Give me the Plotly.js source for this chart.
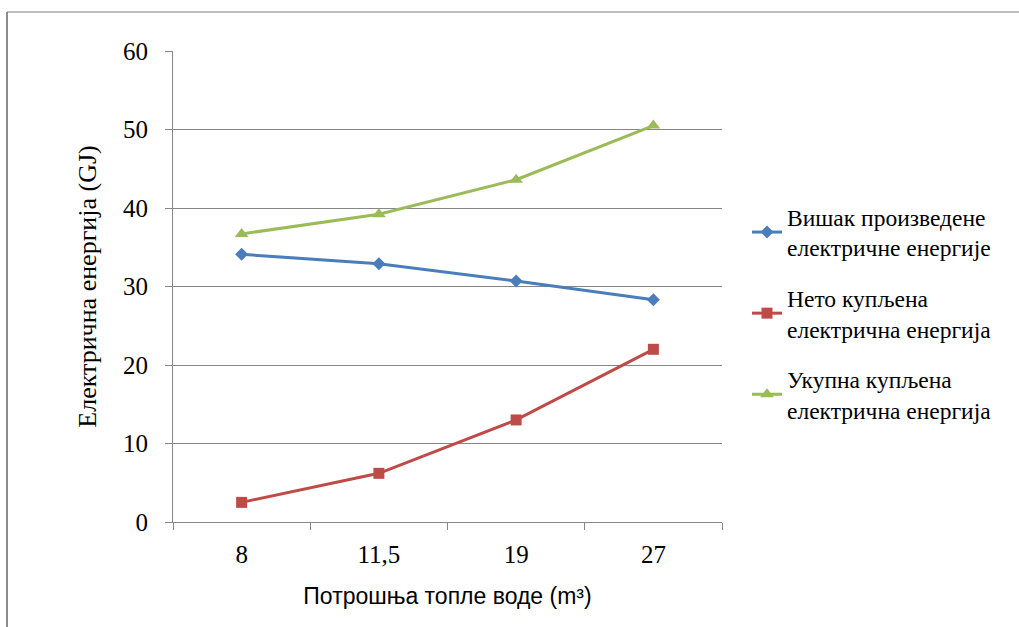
<!DOCTYPE html>
<html>
<head>
<meta charset="utf-8">
<script src="https://cdn.plot.ly/plotly-3.0.1.min.js"></script>
<style>
  html, body { margin: 0; padding: 0; background: #ffffff; }
  #chart { width: 1019px; height: 627px; }
</style>
</head>
<body>
<div id="chart"></div>
<script>
// ---- data ----
const categories = ['8', '11,5', '19', '27'];
const seriesNames = [
  'Вишак произведене<br>електричне енергије',
  'Нето купљена<br>електрична енергија',
  'Укупна купљена<br>електрична енергија'
];
const surplusProduced = [34.1, 32.9, 30.7, 28.3];
const netPurchased    = [2.5, 6.2, 13.0, 22.0];
const totalPurchased  = [36.7, 39.2, 43.6, 50.5];
const yTitle = 'Електрична енергија (GJ)';
const xTitle = 'Потрошња топле воде (m³)';

const colors = ['#4a7ebb', '#be4b48', '#9bbb59'];
const symbols = ['diamond', 'square', 'triangle-up'];
const sizes = [10, 11, 12];
const values = [surplusProduced, netPurchased, totalPurchased];

const traces = values.map((v, i) => ({
  type: 'scatter',
  mode: 'lines+markers',
  x: categories,
  y: v,
  name: seriesNames[i],
  legendgroup: 'g' + i,
  line: { color: colors[i], width: 3 },
  marker: { color: colors[i], symbol: symbols[i], size: sizes[i] }
}));

const L = 173, R = 722, T = 51, B = 522, W = 1019, H = 627;
const pw = R - L, ph = B - T;
const px = x => (x - L) / pw;
const py = y => (B - y) / ph;

const serifFont = 'Liberation Serif, serif';

const layout = {
  width: W, height: H,
  margin: { l: L, r: W - R, t: T, b: H - B, pad: 0, autoexpand: false },
  paper_bgcolor: '#ffffff',
  plot_bgcolor: '#ffffff',
  font: { family: serifFont, color: '#000000', size: 25 },
  showlegend: true,
  legend: {
    x: px(747), y: py(195), xanchor: 'left', yanchor: 'top',
    font: { family: serifFont, size: 23.5, color: '#000000' },
    traceorder: 'grouped',
    tracegroupgap: 17,
    bgcolor: 'rgba(0,0,0,0)',
    itemwidth: 30
  },
  xaxis: {
    type: 'category',
    range: [-0.5, 3.5],
    showgrid: false,
    zeroline: false,
    showline: true,
    linecolor: '#868686',
    linewidth: 1,
    ticks: 'outside',
    tickson: 'boundaries',
    ticklen: 7,
    tickcolor: '#868686',
    ticklabelstandoff: 10,
    tickfont: { family: serifFont, size: 25 },
    title: {
      text: xTitle,
      font: { family: 'Liberation Sans, sans-serif', size: 23 },
      standoff: 20
    },
    fixedrange: true
  },
  yaxis: {
    range: [0, 60],
    dtick: 10,
    showgrid: true,
    gridcolor: '#868686',
    gridwidth: 1,
    zeroline: false,
    showline: true,
    linecolor: '#868686',
    linewidth: 1,
    ticks: 'outside',
    ticklen: 7,
    tickcolor: '#868686',
    ticklabelstandoff: 12,
    tickfont: { family: serifFont, size: 25 },
    title: {
      text: yTitle,
      font: { family: serifFont, size: 26 },
      standoff: 18
    },
    fixedrange: true
  },
  shapes: [
    { type: 'line', xref: 'paper', yref: 'paper', x0: px(7), x1: px(1030), y0: py(12), y1: py(12),
      line: { color: '#bdbdbd', width: 2 } },
    { type: 'line', xref: 'paper', yref: 'paper', x0: px(7), x1: px(7), y0: py(12), y1: py(640),
      line: { color: '#8c8c8c', width: 2 } }
  ]
};

Plotly.newPlot('chart', traces, layout, { displayModeBar: false, staticPlot: true });
</script>
</body>
</html>
